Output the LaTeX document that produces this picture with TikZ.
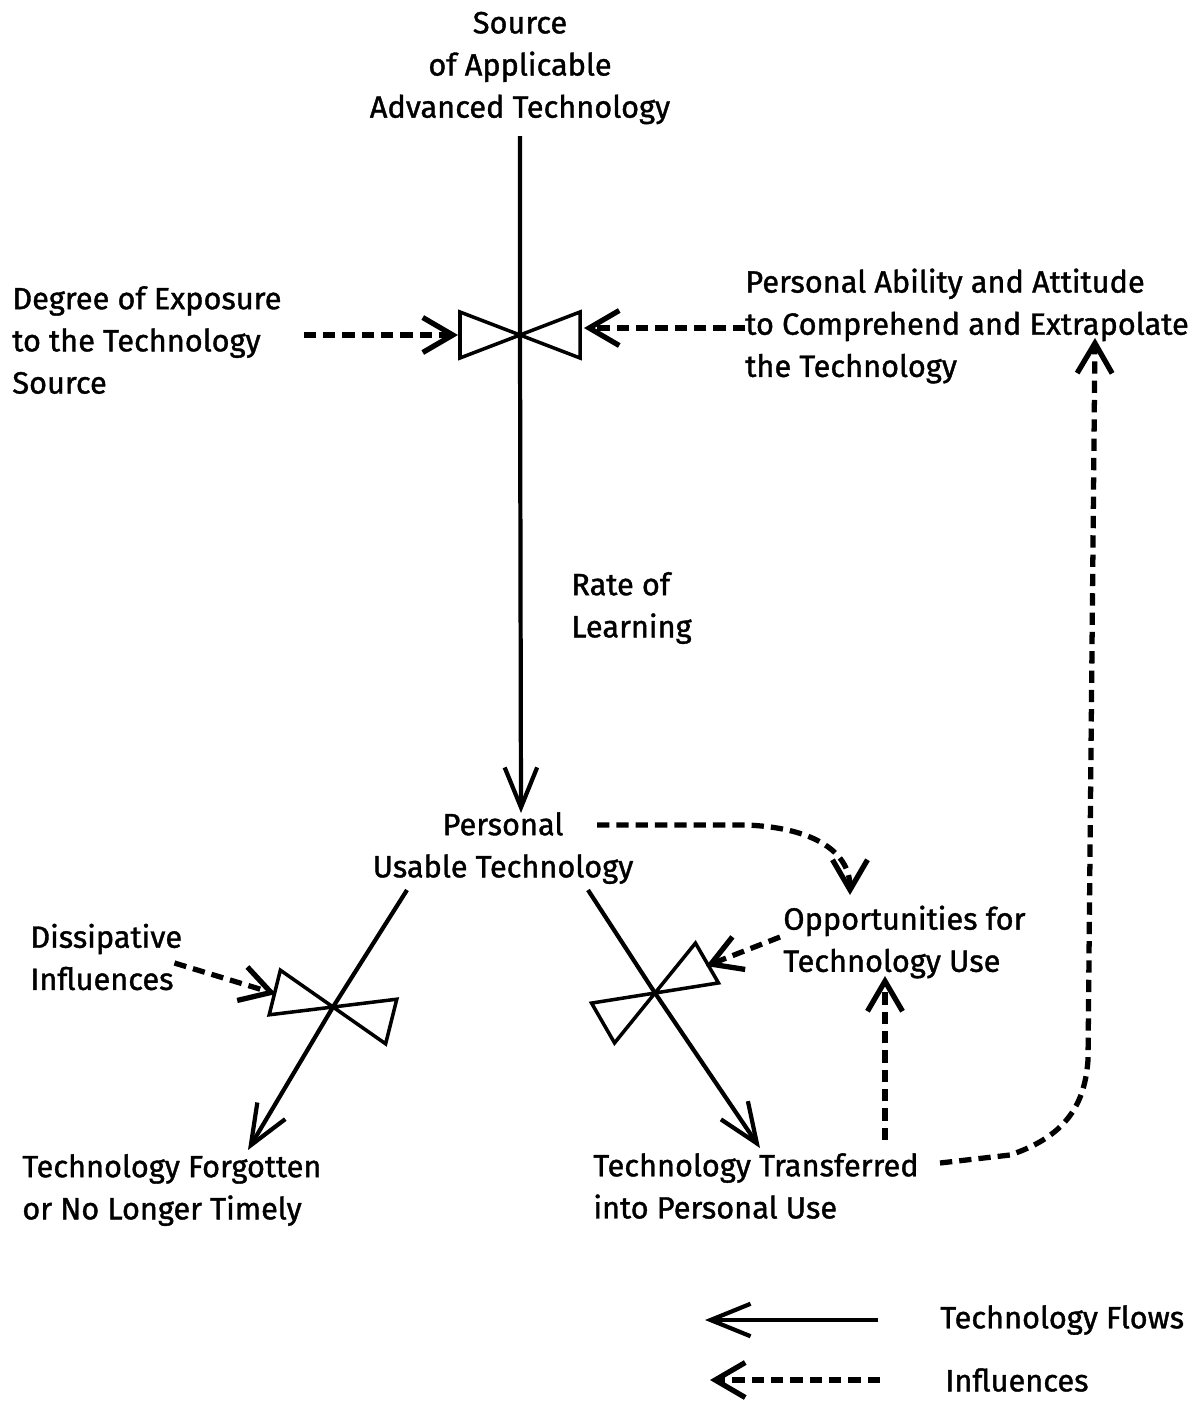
\documentclass[tikz,border=0pt]{standalone}
\usepackage{fontspec}
\setmainfont{Fira Sans}[FakeBold=1.2]
\usepackage{tikz}
\usetikzlibrary{arrows.meta,calc}
\tikzset{
  flow/.style={draw=black, line width=2.4pt, -{Straight Barb[length=8mm,width=6.5mm]}},
  infl/.style={draw=black, line width=3pt, dash pattern=on 7pt off 4pt, -{Straight Barb[length=6mm,width=7mm]}},
  valveline/.style={draw=black, line width=2pt, line join=miter},
  txt/.style={font=\fontsize{17.5}{24}\selectfont, inner sep=0pt, align=left, anchor=west},
  ctxt/.style={font=\fontsize{17.5}{24}\selectfont, inner sep=0pt, align=center},
  pics/valve/.style={code={
    \draw[valveline] (0,0) -- (-60,-23) -- (-60,23) -- cycle;
    \draw[valveline] (0,0) -- (60,-23) -- (60,23) -- cycle;
  }}
}

\begin{document}
\begin{tikzpicture}[x=0.02cm,y=-0.02cm]
  \path[use as bounding box] (0,0) rectangle (1201,1403);

  % stocks and texts
  \node[ctxt] (src) at (520,68) {Source\\of Applicable\\Advanced Technology};
  \node[txt] (expo) at (12,340) {Degree of Exposure\\to the Technology\\Source};
  \node[txt] (ability) at (745,326) {Personal Ability and Attitude\\to Comprehend and Extrapolate\\the Technology};
  \node[txt] (rate) at (571,608) {Rate of\\Learning};
  \node[ctxt] (usable) at (503,848) {Personal\\Usable Technology};
  \node[txt] (dissip) at (30,957) {Dissipative\\Influences};
  \node[txt] (opport) at (783,942) {Opportunities for\\Technology Use};
  \node[txt] (forgot) at (22,1190) {Technology Forgotten\\or No Longer Timely};
  \node[txt] (transf) at (593,1186) {Technology Transferred\\into Personal Use};

  % valves
  \coordinate (v1) at (520,335);
  \coordinate (v2) at (333,1007);
  \coordinate (v3) at (655,993);
  \pic at (v1) {valve};
  \pic[rotate=-14] at (v2) {valve};
  \pic[rotate=30] at (v3) {valve};

  % loose ends
  \coordinate (learnend) at (521,813);
  \coordinate (lossstart) at (407,890);
  \coordinate (lossend) at (248,1150);
  \coordinate (usestart) at (588,890);
  \coordinate (useend) at (760,1148);
  \coordinate (v1in) at (458,335);
  \coordinate (v1rin) at (584,328);
  \coordinate (v2in) at (276,994);
  \coordinate (v3in) at (706,966);
  \coordinate (pstart) at (597,825);
  \coordinate (ptip) at (850,895);
  \coordinate (tup) at (885,1140);
  \coordinate (otip) at (885,976);
  \coordinate (tright) at (940,1163);
  \coordinate (atip) at (1095,338);

  % technology flows
  \draw[flow] (src) ++(0,68) -- (v1) -- (learnend);
  \draw[flow] (lossstart) -- (v2) -- (lossend);
  \draw[flow] (usestart) -- (v3) -- (useend);

  % influences
  \draw[infl] (expo.east |- v1) ++(22,0) -- (v1in);
  \draw[infl] (ability.west |- v1rin) -- (v1rin);
  \draw[infl] (dissip.east) ++(-8,6) -- (v2in);
  \draw[infl] (opport.west) ++(-3,-5) -- (v3in);
  \draw[infl] (pstart) -- (745,825) .. controls (810,827) and (850,850) .. (ptip);
  \draw[infl] (tup) -- (otip);
  \draw[infl] (tright) -- (1010,1155) .. controls (1070,1135) and (1085,1100) .. (1088,1060) -- (atip);

  % key
  \node[txt] (flowkey) at (940,1320) {Technology Flows};
  \node[txt] (inflkey) at (945,1380) {Influences};
  \coordinate (flowtip) at (705,1320);
  \coordinate (infltip) at (710,1380);
  \draw[flow] (flowkey.west) ++(-62,0) -- (flowtip);
  \draw[infl] (inflkey.west) ++(-65,0) -- (infltip);
\end{tikzpicture}
\end{document}
